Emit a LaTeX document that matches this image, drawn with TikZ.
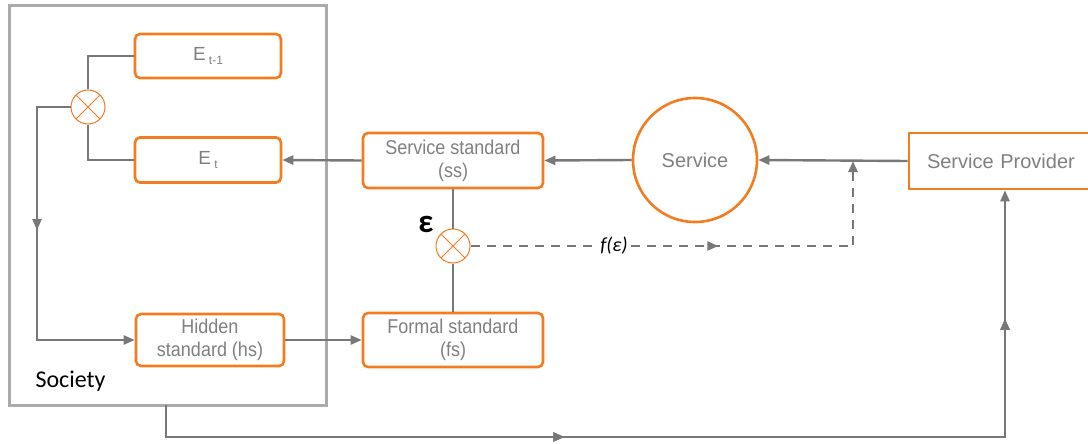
\documentclass[tikz,border=0pt]{standalone}
\usepackage{fontspec}
\setmainfont{Liberation Sans}
\newfontfamily\calib{Carlito}
\newfontfamily\narrowf[FakeStretch=0.9]{Liberation Sans}
\usetikzlibrary{arrows.meta,decorations.markings}
\definecolor{myorange}{HTML}{F47B20}
\definecolor{linegray}{HTML}{787878}
\definecolor{textgray}{HTML}{808080}
\definecolor{boxgray}{HTML}{ABABAB}
\tikzset{
  obox/.style={draw=myorange, line width=2.6pt, rounded corners=5pt, fill=white, text=textgray,
    align=center, inner sep=0pt, font=\narrowf\fontsize{20}{23}\selectfont},
  crossc/.style={circle, draw=myorange, line width=1pt, minimum size=34pt, inner sep=0pt, fill=white,
    path picture={\draw[myorange, line width=0.8pt]
      (path picture bounding box.north west) -- (path picture bounding box.south east)
      (path picture bounding box.north east) -- (path picture bounding box.south west);}},
  conn/.style={draw=linegray, line width=2.4pt},
  tip/.style={-{Triangle[length=11pt,width=9pt]}},
  midarr/.style={postaction=decorate, decoration={markings,
    mark=at position #1 with {\arrow{Triangle[length=11pt,width=9pt]}}}},
}
\begin{document}
\begin{tikzpicture}[x=1pt,y=-1pt]
\useasboundingbox (0,0) rectangle (1088,444);
% Society box
\node[draw=boxgray, line width=3pt, minimum width=317pt, minimum height=399pt, inner sep=0pt] (soc) at (167.5,205.5) {};
\node[anchor=west, font=\calib\fontsize{24}{24}\selectfont, text=black] (soclab) at (32,381) {Society};
% boxes
\node[obox, minimum width=146pt, minimum height=44pt, font=\fontsize{19}{22}\selectfont] (etm) at (208,56)
  {E\,\raisebox{-4pt}{\fontsize{12}{12}\selectfont t-1}};
\node[obox, minimum width=146pt, minimum height=45pt, font=\fontsize{19}{22}\selectfont] (et) at (208,160)
  {E\,\raisebox{-4pt}{\fontsize{12}{12}\selectfont t}};
\node[crossc] (c1) at (88,107) {};
\node[obox, minimum width=148pt, minimum height=52pt] (hs) at (210,340) {Hidden\\standard (hs)};
\node[obox, minimum width=180pt, minimum height=54pt] (fs) at (453,340) {Formal standard\\(fs)};
\node[obox, minimum width=180pt, minimum height=55pt] (ss) at (453,160.5) {Service standard\\(ss)};
\node[crossc] (c2) at (453,246) {};
\node[font=\calib\bfseries\fontsize{33}{33}\selectfont, text=black] (eps) at (426,224) {ε};
\node[circle, draw=myorange, line width=2.6pt, minimum size=124pt, inner sep=0pt, text=textgray,
  font=\fontsize{20}{24}\selectfont] (svc) at (695,160) {Service};
\node[draw=myorange, line width=2.6pt, minimum width=186pt, minimum height=56pt, inner sep=0pt,
  text=textgray, font=\fontsize{20}{24}\selectfont, text width=150pt, align=left] (sp) at (1002,161) {Service Provider};
% coordinates
\coordinate (lc) at (37,340);
\coordinate (sb) at (166,405);
\coordinate (bl) at (166,437);
\coordinate (br) at (1005,437);
\coordinate (dc) at (853,246);
\coordinate (dt) at (853,161);
% connectors
\draw[conn] (c1.north) |- (etm.west);
\draw[conn] (c1.south) |- (et.west);
\draw[conn, tip, midarr=0.43] (c1.west) -| (lc) -- (hs.west);
\draw[conn, tip] (hs.east) -- (fs.west);
\draw[conn, tip] (ss.west) -- (et.east);
\draw[conn, tip] (svc.west) -- (ss.east);
\draw[conn, tip] (sp.west) -- (svc.east);
\draw[conn] (ss.south) -- (c2.north);
\draw[conn] (c2.south) -- (fs.north);
\draw[conn, dashed, dash pattern=on 9pt off 7pt, tip, midarr=0.53] (c2.east) -- (dc) -- (dt);
\node[fill=white, inner sep=2pt, font=\calib\itshape\fontsize{20}{20}\selectfont, text=black] (feps) at (614,246) {f(ε)};
\draw[conn, tip, midarr=0.385, midarr=0.885] (sb) -- (bl) -- (br) -- (sp.south -| br);
\end{tikzpicture}
\end{document}
